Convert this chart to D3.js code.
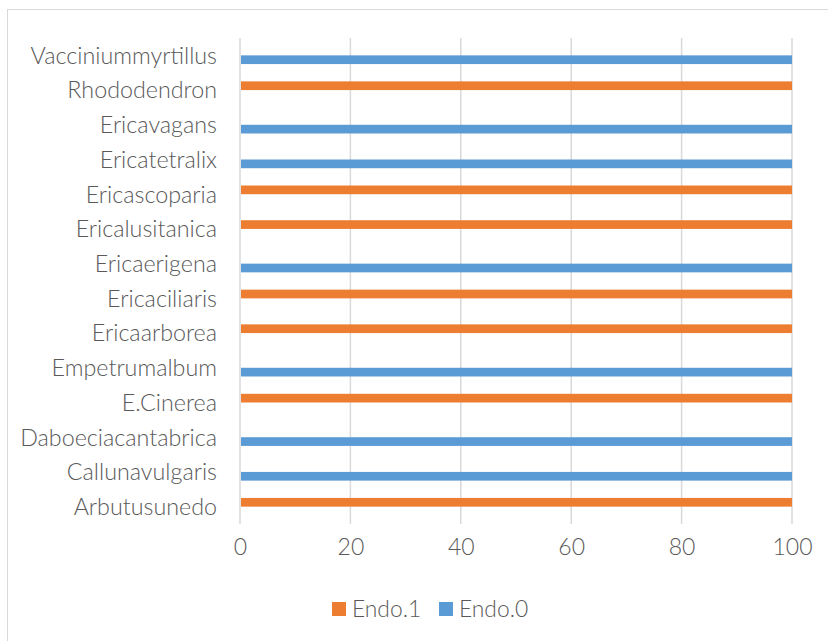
<!DOCTYPE html>
<html><head><meta charset="utf-8">
<script src="https://cdn.jsdelivr.net/npm/d3@7"></script>
<style>body{margin:0;background:#fff}svg{display:block}text{font-family:Lato,"Open Sans",sans-serif;fill:#595959;font-weight:300}</style>
</head><body><svg id="c" width="828" height="641"></svg>
<script>
const categories = ["Arbutusunedo","Callunavulgaris","Daboeciacantabrica","E.Cinerea","Empetrumalbum","Ericaarborea","Ericaciliaris","Ericaerigena","Ericalusitanica","Ericascoparia","Ericatetralix","Ericavagans","Rhododendron","Vacciniummyrtillus"];
const endo1 = [100,0,0,100,0,100,100,0,100,100,0,0,100,0];
const endo0 = [0,100,100,0,100,0,0,100,0,0,100,100,0,100];
const seriesNames = ["Endo.1","Endo.0"];
const colors = ["#ED7D31","#5B9BD5"];
const xTicks = [0,20,40,60,80,100];

const svg = d3.select("#c");
svg.append("rect").attr("x",7.5).attr("y",9.5).attr("width",840).attr("height",660).attr("fill","#fff").attr("stroke","#d9d9d9");

const L=240,R=792,T=38,B=524;
const x = d3.scaleLinear().domain([0,100]).range([L,R]);
const y = d3.scaleBand().domain(categories.slice().reverse()).range([T,B]);
const inner = d3.scaleBand().domain(seriesNames).range([y.bandwidth()/2-8.7, y.bandwidth()/2+8.7]);

svg.append("g").selectAll("line").data(xTicks).join("line")
  .attr("x1",d=>x(d)).attr("x2",d=>x(d)).attr("y1",T).attr("y2",B)
  .attr("stroke","#d9d9d9").attr("stroke-width",1.5);

const data = [];
categories.forEach((c,i)=>{ data.push({c,s:"Endo.1",v:endo1[i],col:colors[0]}); data.push({c,s:"Endo.0",v:endo0[i],col:colors[1]}); });
svg.append("g").selectAll("rect").data(data.filter(d=>d.v>0)).join("rect")
  .attr("x",x(0)+1).attr("y",d=>y(d.c)+inner(d.s)).attr("width",d=>x(d.v)-x(0)-1).attr("height",inner.bandwidth())
  .attr("fill",d=>d.col);

const yAxis = svg.append("g").attr("transform",`translate(${L},0)`).call(d3.axisLeft(y).tickSize(0).tickPadding(23));
yAxis.select(".domain").remove();
yAxis.selectAll("text").style("font-size","23.3px").attr("fill","#595959").style("font-family","Lato").attr("dy","0.36em");

const xAxis = svg.append("g").attr("transform",`translate(0,${B})`).call(d3.axisBottom(x).tickValues(xTicks).tickSize(0).tickPadding(15));
xAxis.select(".domain").remove();
xAxis.selectAll("text").style("font-size","23px").attr("fill","#595959").style("font-family","Lato");

const leg = svg.append("g");
const lx=[332,439];
seriesNames.forEach((s,i)=>{
  leg.append("rect").attr("x",lx[i]).attr("y",602).attr("width",14).attr("height",14).attr("fill",colors[i]);
  leg.append("text").attr("x",lx[i]+20).attr("y",609).attr("dy","0.35em").style("font-size","22.8px").text(s);
});
</script></body></html>
